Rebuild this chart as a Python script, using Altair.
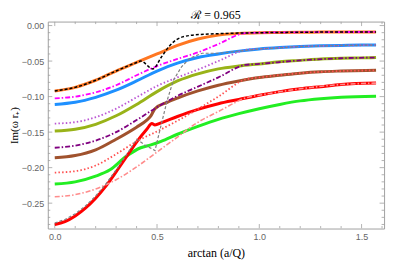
import altair as alt
import pandas as pd

W, H = 338, 208
XDOM = [-0.034, 1.61]
YDOM = [-0.2857, 0.0056]

# ---- curve data ----
orange_x = [0, 0.1, 0.2, 0.3, 0.4, 0.5, 0.6, 0.7, 0.8, 0.9, 1.0, 1.1, 1.2, 1.3, 1.4, 1.5, 1.5708]
orange_y = [-0.092, -0.087, -0.077, -0.064, -0.052, -0.040, -0.028, -0.019, -0.0135, -0.011, -0.010, -0.0097, -0.0094, -0.0092, -0.009, -0.009, -0.009]

blue_x = [0, 0.1, 0.2, 0.3, 0.4, 0.5, 0.6, 0.7, 0.8, 0.9, 1.0, 1.1, 1.2, 1.3, 1.4, 1.5, 1.5708]
blue_y = [-0.111, -0.108, -0.101, -0.091, -0.078, -0.064, -0.053, -0.045, -0.040, -0.036, -0.033, -0.031, -0.0295, -0.0285, -0.028, -0.0275, -0.0275]

yg_x = [0, 0.1, 0.2, 0.3, 0.4, 0.5, 0.6, 0.7, 0.8, 0.9, 1.0, 1.1, 1.2, 1.3, 1.4, 1.5, 1.5708]
yg_y = [-0.1485, -0.146, -0.139, -0.127, -0.111, -0.093, -0.078, -0.068, -0.061, -0.057, -0.054, -0.051, -0.049, -0.047, -0.046, -0.0455, -0.045]

brown_x = [0, 0.1, 0.2, 0.3, 0.4, 0.45, 0.47, 0.49, 0.55, 0.6, 0.7, 0.8, 0.9, 1.0, 1.1, 1.2, 1.3, 1.4, 1.5708]
brown_y = [-0.186, -0.183, -0.175, -0.160, -0.143, -0.133, -0.127, -0.117, -0.108, -0.102, -0.092, -0.084, -0.078, -0.073, -0.070, -0.067, -0.065, -0.064, -0.063]

red_x = [0, 0.05, 0.1, 0.15, 0.2, 0.25, 0.3, 0.35, 0.4, 0.45, 0.475, 0.49, 0.52, 0.6, 0.7, 0.8, 0.9, 1.0, 1.1, 1.2, 1.3, 1.4, 1.5708]
red_y = [-0.280, -0.276, -0.268, -0.257, -0.243, -0.226, -0.206, -0.185, -0.164, -0.146, -0.138, -0.140, -0.137, -0.128, -0.118, -0.110, -0.104, -0.098, -0.093, -0.089, -0.086, -0.083, -0.081]

green_x = [0, 0.1, 0.2, 0.27, 0.35, 0.42, 0.47, 0.52, 0.6, 0.7, 0.8, 0.9, 1.0, 1.1, 1.2, 1.3, 1.4, 1.5708]
green_y = [-0.223, -0.220, -0.212, -0.203, -0.184, -0.172, -0.168, -0.163, -0.153, -0.142, -0.132, -0.124, -0.117, -0.111, -0.106, -0.103, -0.101, -0.0995]

black_x = [0, 0.1, 0.2, 0.3, 0.4, 0.42, 0.48, 0.52, 0.56, 0.6, 0.66, 0.75, 0.85, 0.95, 1.1, 1.3, 1.5708]
black_y = [-0.092, -0.087, -0.077, -0.064, -0.052, -0.050, -0.061, -0.045, -0.029, -0.019, -0.014, -0.012, -0.011, -0.0103, -0.0097, -0.0092, -0.009]

magenta_x = [0, 0.1, 0.2, 0.3, 0.4, 0.5, 0.6, 0.707, 0.8, 0.93, 1.0, 1.2, 1.5708]
magenta_y = [-0.1025, -0.100, -0.094, -0.084, -0.070, -0.057, -0.047, -0.037, -0.026, -0.0107, -0.010, -0.0094, -0.009]

orchid_x = [0, 0.1, 0.2, 0.3, 0.4, 0.5, 0.6, 0.7, 0.8, 0.94, 1.0, 1.2, 1.5708]
orchid_y = [-0.138, -0.136, -0.129, -0.117, -0.101, -0.085, -0.073, -0.062, -0.050, -0.034, -0.033, -0.0295, -0.0275]

purple_x = [0, 0.1, 0.2, 0.3, 0.4, 0.5, 0.6, 0.7, 0.8, 0.93, 1.0, 1.2, 1.4, 1.5708]
purple_y = [-0.172, -0.169, -0.162, -0.150, -0.133, -0.115, -0.099, -0.086, -0.073, -0.0555, -0.054, -0.049, -0.046, -0.045]

salmon_x = [0, 0.1, 0.2, 0.3, 0.4, 0.5, 0.6, 0.72, 0.8, 0.935, 1.0, 1.2, 1.4, 1.5708]
salmon_y = [-0.207, -0.205, -0.197, -0.181, -0.163, -0.149, -0.134, -0.114, -0.100, -0.0755, -0.073, -0.067, -0.064, -0.063]

pink_x = [0, 0.1, 0.2, 0.3, 0.4, 0.5, 0.6, 0.69, 0.8, 0.95, 1.0, 1.2, 1.4, 1.5708]
pink_y = [-0.241, -0.238, -0.230, -0.217, -0.199, -0.178, -0.157, -0.138, -0.121, -0.1005, -0.098, -0.089, -0.083, -0.081]

gray_x = [0, 0.05, 0.1, 0.15, 0.2, 0.25, 0.3, 0.36, 0.40, 0.44, 0.49, 0.52, 0.55, 0.58, 0.62, 0.66, 0.72, 0.8, 0.9, 1.0, 1.2, 1.4, 1.5708]
gray_y = [-0.278, -0.273, -0.265, -0.254, -0.240, -0.223, -0.203, -0.178, -0.160, -0.168, -0.176, -0.140, -0.105, -0.077, -0.058, -0.046, -0.039, -0.039, -0.036, -0.033, -0.0295, -0.028, -0.0275]

# tick values
x_major = [0.0, 0.5, 1.0, 1.5]
x_minor = [0.1, 0.2, 0.3, 0.4, 0.6, 0.7, 0.8, 0.9, 1.1, 1.2, 1.3, 1.4, 1.6]
y_major = [0.0, -0.05, -0.10, -0.15, -0.20, -0.25]
y_minor = [v / 100 for v in range(-28, 1) if v % 5 != 0]

xs = alt.Scale(domain=XDOM, nice=False, zero=False)
ys = alt.Scale(domain=YDOM, nice=False, zero=False)

FRAME = "#a0a0a0"
LABEL = "#666666"


def curve(xv, yv, color, width, dash=None, interp="monotone"):
    df = pd.DataFrame({"x": xv, "y": yv})
    kw = dict(color=color, strokeWidth=width, clip=True, interpolate=interp)
    if dash:
        kw["strokeDash"] = dash
    return alt.Chart(df).mark_line(**kw).encode(
        x=alt.X("x:Q", scale=xs),
        y=alt.Y("y:Q", scale=ys),
    )


base = alt.Chart(pd.DataFrame({"x": [0.0], "y": [0.0]})).mark_point(opacity=0, size=1).encode(
    x=alt.X("x:Q", scale=xs, title="arctan (a/Q)",
            axis=alt.Axis(values=x_major, format=".1f", ticks=False, domain=False, grid=False,
                          labelFont="Liberation Sans", labelFontSize=9, labelColor=LABEL,
                          labelPadding=4, titleFont="Liberation Serif", titleFontSize=12,
                          titleFontWeight="normal", titleColor="black", titleY=24,
                          titleBaseline="middle")),
    y=alt.Y("y:Q", scale=ys, title="Im(ω r₊)",
            axis=alt.Axis(values=y_major, format=".2f", ticks=False, domain=False, grid=False,
                          labelFont="Liberation Sans", labelFontSize=9, labelColor=LABEL,
                          labelPadding=4, titleFont="Liberation Serif", titleFontSize=11,
                          titleFontWeight="normal", titleColor="black", titleX=-33, titleY=104,
                          titleAngle=270, titleAlign="center", titleBaseline="middle")),
)


def xticks(vals, length):
    df = pd.DataFrame({"v": vals})
    b = alt.Chart(df).mark_rule(color=FRAME, strokeWidth=0.8, clip=True)
    return [
        b.encode(x=alt.X("v:Q", scale=xs), y=alt.value(H), y2=alt.value(H - length)),
        b.encode(x=alt.X("v:Q", scale=xs), y=alt.value(0), y2=alt.value(length)),
    ]


def yticks(vals, length):
    df = pd.DataFrame({"v": vals})
    b = alt.Chart(df).mark_rule(color=FRAME, strokeWidth=0.8, clip=True)
    return [
        b.encode(y=alt.Y("v:Q", scale=ys), x=alt.value(0), x2=alt.value(length)),
        b.encode(y=alt.Y("v:Q", scale=ys), x=alt.value(W), x2=alt.value(W - length)),
    ]


ticks = xticks(x_major, 4.5) + xticks(x_minor, 2.5) + yticks(y_major, 4.5) + yticks(y_minor, 2.5)

DOT = [1.5, 2.2]
DASHDOT = [5, 2, 1.5, 2]
DASH = [3, 2]

layers = [base] + ticks + [
    curve(green_x, green_y, "#22EE22", 3),
    curve(red_x, red_y, "#FF0000", 3),
    curve(brown_x, brown_y, "#A0522D", 3),
    curve(yg_x, yg_y, "#99B319", 3),
    curve(blue_x, blue_y, "#1E90FF", 3),
    curve(orange_x, orange_y, "#FF7722", 3),
    curve(pink_x, pink_y, "#FF8C8C", 1.6, DASHDOT),
    curve(salmon_x, salmon_y, "#FF5050", 1.8, DOT),
    curve(purple_x, purple_y, "#800080", 1.8, DASHDOT),
    curve(orchid_x, orchid_y, "#BA55D3", 1.8, DOT),
    curve(magenta_x, magenta_y, "#FF00FF", 1.8, DASHDOT),
    curve(gray_x, gray_y, "#808080", 1.2, DASH, "linear"),
    curve(black_x, black_y, "#000000", 1.5, DASH),
]

chart = alt.layer(*layers).properties(
    width=W, height=H,
    title=alt.Title("ℛ = 0.965", font="Liberation Serif", fontSize=12, fontWeight="normal",
                    color="black", anchor="middle", offset=0),
    autosize=alt.AutoSizeParams(type="none"),
    padding={"left": 40, "top": 13, "right": 15, "bottom": 32},
).configure_view(stroke=FRAME, strokeWidth=1)

chart.save("out.html", embed_options={"renderer": "svg", "actions": False})
